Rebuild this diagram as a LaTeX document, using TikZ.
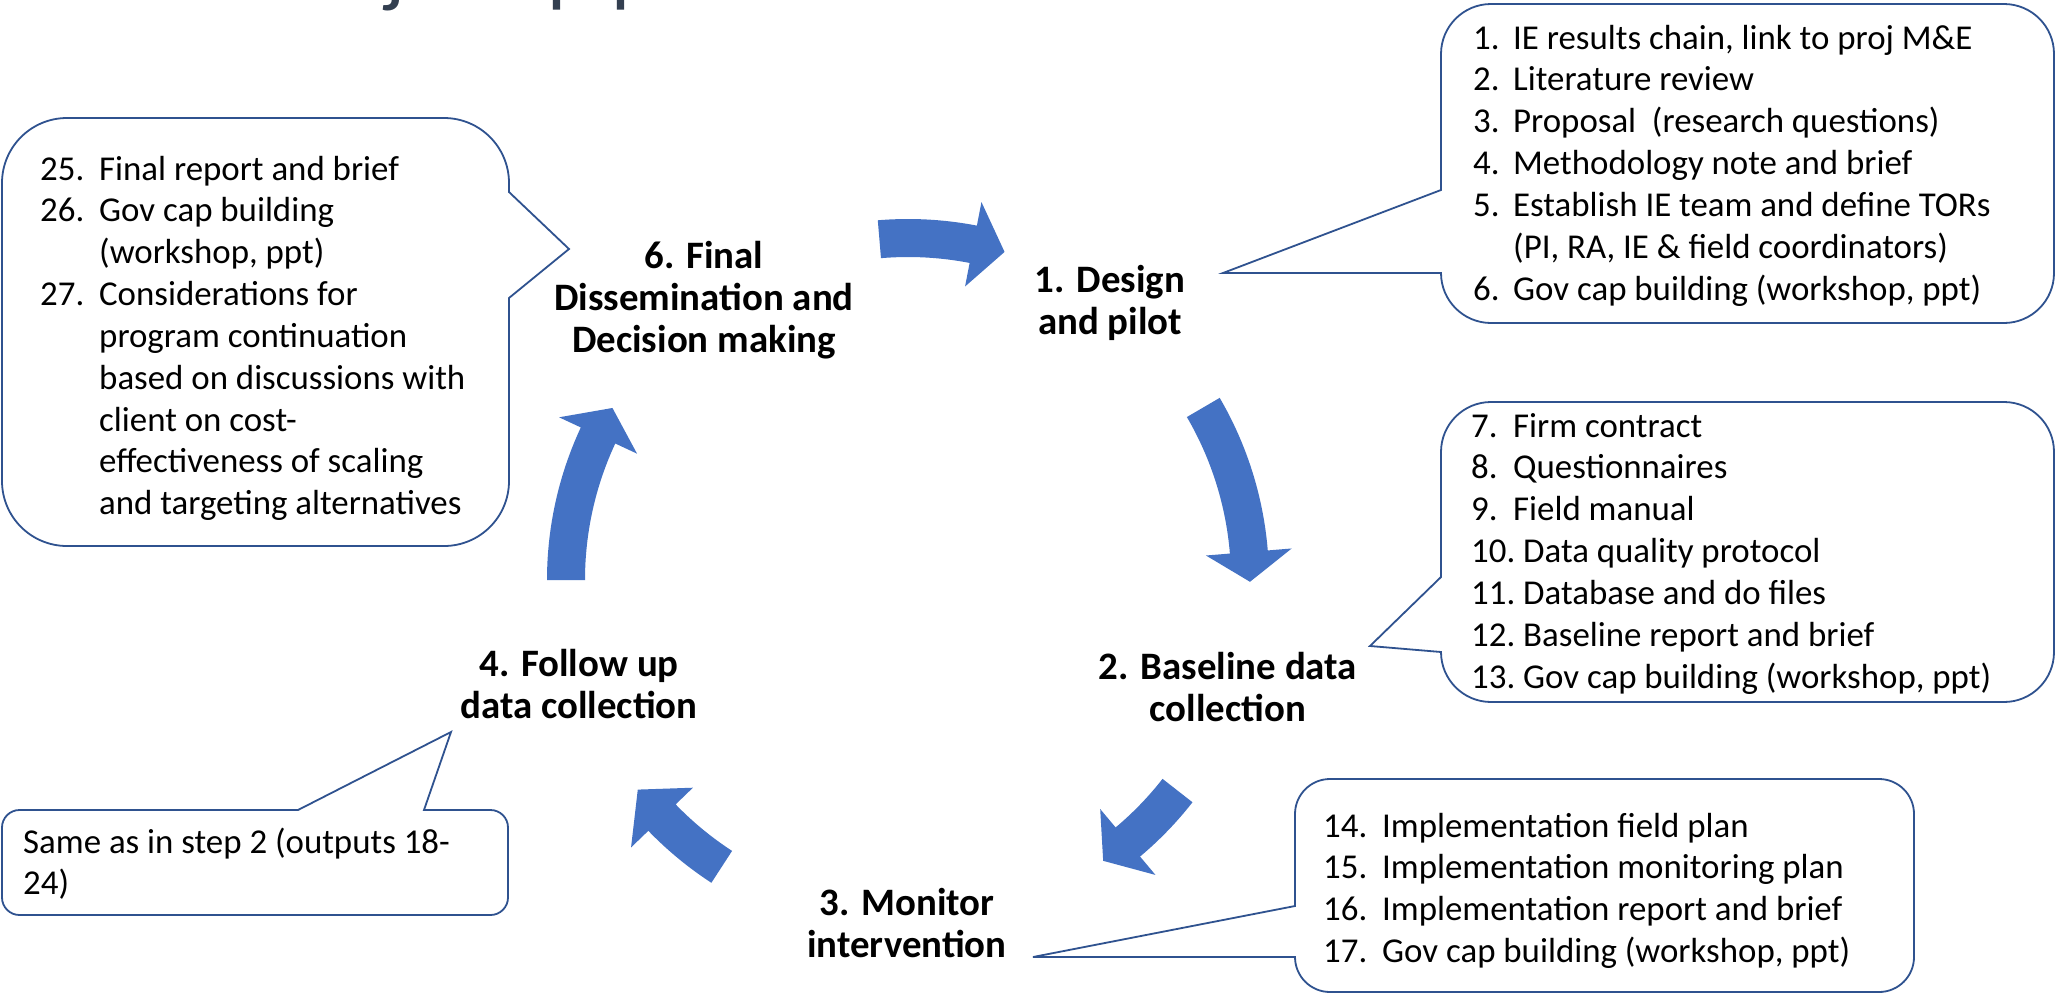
\documentclass[tikz,border=0pt]{standalone}
\usepackage{fontspec}
\setmainfont{Carlito}
\definecolor{cycleblue}{HTML}{4472C4}
\definecolor{calloutline}{HTML}{2F528F}
\definecolor{titlegrey}{HTML}{333F50}

\newcommand\stepfont{\fontsize{39}{42.5}\selectfont\bfseries}
\newcommand\listfont{\fontsize{35}{42}\selectfont}
\newcommand\ctrstack[1]{\begin{tabular}[t]{@{}c@{}}#1\end{tabular}}
\newcommand\lftstack[1]{\begin{tabular}[t]{@{}l@{}}#1\end{tabular}}
\newcommand\itemno[2]{\makebox[#1][l]{#2}}
% one block arrow of the cycle: tail angle, head-base angle, tip angle
\newcommand\cyclearrow[3]{%
  \fill[cycleblue, shift={(C)}] (#1:361) arc[start angle=#1, end angle=#2, radius=361]
    -- (#2:385) -- (#3:342) -- (#2:299) -- (#2:323)
    arc[start angle=#2, end angle=#1, radius=323] -- cycle;}

\begin{document}
\begin{tikzpicture}[x=1bp, y=-1bp,
  callout/.style={draw=calloutline, line width=1.8bp, fill=white, line join=miter},
  steplabel/.style={font=\stepfont, inner sep=0, anchor=base},
  itemlist/.style={font=\listfont, inner sep=0, anchor=base west}]

\path[use as bounding box, fill=white] (0,0) rectangle (2059,996);

% title line, only its lowest part lies on the page
\begin{scope}
  \clip (0,0) rectangle (2059,996);
  \node[anchor=base west, inner sep=0, text=titlegrey,
        font=\fontsize{85}{100}\selectfont] (title) at (187,-4)
        {IE Project\hspace{16bp} pipeline};
\end{scope}

% centre of the cycle
\coordinate (C) at (908,580);

% cycle arrows
\cyclearrow{265.2}{281}{286.4}
\cyclearrow{329.7}{355.3}{360.3}
\cyclearrow{38}{50}{55.2}
\cyclearrow{123}{136}{142.2}
\cyclearrow{180}{205}{210.2}

% pointer tips of the callouts
\coordinate (tipA) at (569,249);
\coordinate (tipB) at (1223,273);
\coordinate (tipC) at (1370,646);
\coordinate (tipD) at (1033,957);
\coordinate (tipE) at (451,732);

% callout: outputs 25-27
\draw[callout] (67,118) -- (444,118) arc[start angle=270, end angle=360, radius=65]
  -- (509,192) -- (tipA) -- (509,298) -- (509,481)
  arc[start angle=0, end angle=90, radius=65] -- (67,546)
  arc[start angle=90, end angle=180, radius=65] -- (2,183)
  arc[start angle=180, end angle=270, radius=65] -- cycle;

% callout: outputs 1-6
\draw[callout] (1491,4) -- (2004,4) arc[start angle=270, end angle=360, radius=50]
  -- (2054,273) arc[start angle=0, end angle=90, radius=50] -- (1491,323)
  arc[start angle=90, end angle=180, radius=50] -- (tipB) -- (1441,190) -- (1441,54)
  arc[start angle=180, end angle=270, radius=50] -- cycle;

% callout: outputs 7-13
\draw[callout] (1491,402) -- (2004,402) arc[start angle=270, end angle=360, radius=50]
  -- (2054,652) arc[start angle=0, end angle=90, radius=50] -- (1491,702)
  arc[start angle=90, end angle=180, radius=50] -- (tipC) -- (1441,577) -- (1441,452)
  arc[start angle=180, end angle=270, radius=50] -- cycle;

% callout: outputs 14-17
\draw[callout] (1330,779) -- (1879,779) arc[start angle=270, end angle=360, radius=35]
  -- (1914,957) arc[start angle=0, end angle=90, radius=35] -- (1330,992)
  arc[start angle=90, end angle=180, radius=35] -- (tipD) -- (1295,906) -- (1295,814)
  arc[start angle=180, end angle=270, radius=35] -- cycle;

% callout: outputs 18-24
\draw[callout] (19.5,810) -- (298,810) -- (tipE) -- (424,810) -- (490.5,810)
  arc[start angle=270, end angle=360, radius=17.5] -- (508,897.5)
  arc[start angle=0, end angle=90, radius=17.5] -- (19.5,915)
  arc[start angle=90, end angle=180, radius=17.5] -- (2,827.5)
  arc[start angle=180, end angle=270, radius=17.5] -- cycle;

% step labels
\node[steplabel] (L6) at (704,268) {\ctrstack{6. Final\\Dissemination and\\Decision making}};
\node[steplabel] (L1) at (1110,292) {\ctrstack{1. Design\\and pilot}};
\node[steplabel] (L2) at (1228,679) {\ctrstack{2. Baseline data\\collection}};
\node[steplabel] (L3) at (907,915) {\ctrstack{3. Monitor\\intervention}};
\node[steplabel] (L4) at (579,676) {\ctrstack{4. Follow up\\data collection}};

% output lists
\node[itemlist] (outA) at (40,180) {\lftstack{%
  \itemno{59bp}{25.}Final report and brief\\
  \itemno{59bp}{26.}Gov cap building\\
  \hspace*{59bp}(workshop, ppt)\\
  \itemno{59bp}{27.}Considerations for\\
  \hspace*{59bp}program continuation\\
  \hspace*{59bp}based on discussions with\\
  \hspace*{59bp}client on cost-\\
  \hspace*{59bp}effectiveness of scaling\\
  \hspace*{59bp}and targeting alternatives}};

\node[itemlist] (outB) at (1473,49) {\lftstack{%
  \itemno{40bp}{1.}IE results chain, link to proj M\&E\\
  \itemno{40bp}{2.}Literature review\\
  \itemno{40bp}{3.}Proposal\ \ (research questions)\\
  \itemno{40bp}{4.}Methodology note and brief\\
  \itemno{40bp}{5.}Establish IE team and define TORs\\
  \hspace*{40bp}(PI, RA, IE \& field coordinators)\\
  \itemno{40bp}{6.}Gov cap building (workshop, ppt)}};

\node[itemlist] (outC) at (1471,437) {\lftstack{%
  \itemno{42bp}{7.}Firm contract\\
  \itemno{42bp}{8.}Questionnaires\\
  \itemno{42bp}{9.}Field manual\\
  \itemno{52bp}{10.}Data quality protocol\\
  \itemno{52bp}{11.}Database and do files\\
  \itemno{52bp}{12.}Baseline report and brief\\
  \itemno{52bp}{13.}Gov cap building (workshop, ppt)}};

\node[itemlist] (outD) at (1323,837) {\lftstack{%
  \itemno{59bp}{14.}Implementation field plan\\
  \itemno{59bp}{15.}Implementation monitoring plan\\
  \itemno{59bp}{16.}Implementation report and brief\\
  \itemno{59bp}{17.}Gov cap building (workshop, ppt)}};

\node[itemlist] (outE) at (23,853) {\lftstack{%
  Same as in step 2 (outputs 18-\\
  24)}};

\end{tikzpicture}
\end{document}
